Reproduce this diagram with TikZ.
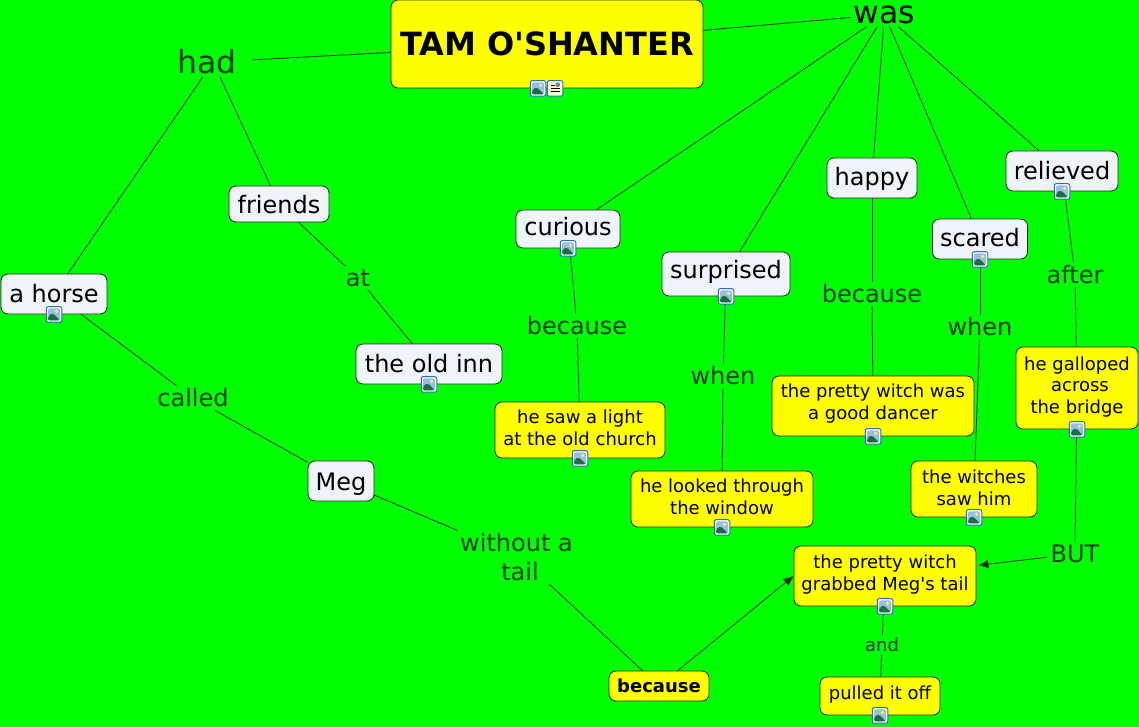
\documentclass[tikz,border=0pt]{standalone}
\usepackage{fontspec}
\setmainfont{DejaVu Sans}
\usetikzlibrary{arrows.meta,positioning}
\definecolor{mapgreen}{RGB}{0,255,0}
\definecolor{mapyellow}{RGB}{255,255,0}
\definecolor{mapwhite}{RGB}{238,244,250}
\definecolor{linkdark}{RGB}{8,62,8}
\definecolor{iconrim}{RGB}{40,110,190}
\definecolor{iconsky}{RGB}{150,190,235}
\definecolor{iconhill}{RGB}{30,110,60}
\tikzset{
  conceptbox/.style={rectangle, draw=black!85, line width=0.8pt, rounded corners=7pt, inner sep=0pt, align=center},
  whitebox/.style={conceptbox, fill=mapwhite, text height=18pt, text depth=2pt, font=\fontsize{24}{28}\selectfont},
  yellowbox/.style={conceptbox, fill=mapyellow, text depth=5pt, font=\fontsize{18}{21.5}\selectfont},
  linkword/.style={inner sep=3pt, align=center, text=linkdark, font=\fontsize{24}{29}\selectfont},
  edge/.style={draw=black!80!green, line width=0.8pt},
  pointer/.style={edge, -{Latex[length=10pt,width=9pt]}},
  iconbase/.style={rectangle, draw=iconrim, fill=white, line width=1pt, rounded corners=2pt, minimum size=15.5pt, inner sep=0pt},
  imageicon/.style={iconbase, path picture={
    \fill[iconsky] ([shift={(-6pt,-6pt)}]path picture bounding box.center) rectangle ([shift={(6pt,6pt)}]path picture bounding box.center);
    \fill[yellow!70!white] ([shift={(2.5pt,3pt)}]path picture bounding box.center) circle (1.8pt);
    \fill[iconhill] ([shift={(-6pt,-6pt)}]path picture bounding box.center) -- ([shift={(-6pt,-2pt)}]path picture bounding box.center) -- ([shift={(-1.5pt,1.5pt)}]path picture bounding box.center) -- ([shift={(6pt,-6pt)}]path picture bounding box.center) -- cycle;}},
  texticon/.style={iconbase, path picture={
    \fill[mapyellow!30!white] ([shift={(-6pt,-6pt)}]path picture bounding box.center) rectangle ([shift={(6pt,6pt)}]path picture bounding box.center);
    \fill[iconsky!70!black] ([shift={(0.5pt,1.5pt)}]path picture bounding box.center) rectangle ([shift={(5pt,6pt)}]path picture bounding box.center);
    \draw[black, line width=0.7pt] ([shift={(-4.5pt,3.5pt)}]path picture bounding box.center) -- ([shift={(-0.5pt,3.5pt)}]path picture bounding box.center)
      ([shift={(-4.5pt,0pt)}]path picture bounding box.center) -- ([shift={(4.5pt,0pt)}]path picture bounding box.center)
      ([shift={(-4.5pt,-2.5pt)}]path picture bounding box.center) -- ([shift={(4.5pt,-2.5pt)}]path picture bounding box.center);}},
}
\begin{document}
\begin{tikzpicture}[x=1pt, y=-1pt]
\useasboundingbox[fill=mapgreen] (0,0) rectangle (1139,727);
% concepts
\node[conceptbox, fill=mapyellow, minimum width=312pt, minimum height=88pt, font=\fontsize{32}{36}\selectfont\bfseries] (tam) at (547,44) {TAM O\textquotesingle SHANTER};
\node[whitebox, text height=20pt, text depth=0pt, minimum width=100pt, minimum height=36pt] (friends) at (279,204) {friends};
\node[whitebox, minimum width=106pt, minimum height=40pt] (horse) at (54,294) {a horse};
\node[whitebox, minimum width=146pt, minimum height=40pt] (oldinn) at (429,364) {the old inn};
\node[whitebox, text depth=0pt, minimum width=66pt, minimum height=40pt] (meg) at (341,481) {Meg};
\node[whitebox, text depth=4pt, minimum width=104pt, minimum height=38pt] (curious) at (568,229) {curious};
\node[whitebox, text depth=10pt, minimum width=128pt, minimum height=44pt] (surprised) at (726,274) {surprised};
\node[whitebox, minimum width=90pt, minimum height=40pt] (happy) at (872,178) {happy};
\node[whitebox, minimum width=95pt, minimum height=40pt] (scared) at (980,239) {scared};
\node[whitebox, text depth=0pt, minimum width=112pt, minimum height=40pt] (relieved) at (1062,171) {relieved};
\node[yellowbox, minimum width=170pt, minimum height=56pt] (sawlight) at (580,430) {he saw a light\\at the old church};
\node[yellowbox, minimum width=182pt, minimum height=56pt] (looked) at (722,499) {he looked through\\the window};
\node[yellowbox, text depth=9pt, minimum width=202pt, minimum height=60pt] (dancer) at (873,406) {the pretty witch was\\a good dancer};
\node[yellowbox, text depth=3pt, minimum width=126pt, minimum height=56pt] (sawhim) at (974,489) {the witches\\saw him};
\node[yellowbox, text depth=6pt, minimum width=122pt, minimum height=82pt] (galloped) at (1077,388) {he galloped\\\hspace{6pt}across\\the bridge};
\node[yellowbox, text depth=7pt, minimum width=182pt, minimum height=60pt] (grabbed) at (885,576) {the pretty witch\\grabbed Meg\textquotesingle s tail};
\node[yellowbox, text depth=7pt, minimum width=120pt, minimum height=38pt] (pulled) at (880,696) {pulled it off};
\node[yellowbox, text depth=1pt, minimum width=100pt, minimum height=30pt, font=\fontsize{18}{21.5}\selectfont\bfseries] (becausebox) at (659,686) {because};
% linking words
\node[linkword, minimum width=78pt, minimum height=30pt, inner sep=0pt, font=\fontsize{31.5}{36}\selectfont] (had) at (213,62) {had\hspace{12pt}};
\node[linkword, text=black, font=\fontsize{31.5}{36}\selectfont] (was) at (884.5,14.5) {was};
\node[linkword] (viaat) at (358,278) {at};
\node[linkword] (viacalled) at (193,398) {called};
\node[linkword] (viawithout) at (520,557) {without a\hspace{7pt}\mbox{}\\tail};
\node[linkword] (viacurious) at (577,326) {because};
\node[linkword] (viasurprised) at (723,376) {when};
\node[linkword] (viahappy) at (872,294) {because};
\node[linkword] (viascared) at (980,327) {when};
\node[linkword] (viarelieved) at (1075,275) {after};
\node[linkword] (viabut) at (1075,554) {BUT};
\node[linkword, font=\fontsize{18}{22}\selectfont] (viaand) at (882,645) {and};
% connectors
\draw[edge] (had) -- (tam);
\draw[edge] (tam) -- (was);
\draw[edge] (was) -- (curious);
\draw[edge] (was) -- (surprised);
\draw[edge] (was) -- (happy);
\draw[edge] (was) -- (scared);
\draw[edge] (was) -- (relieved);
\draw[edge] (had) -- (horse);
\draw[edge] (had) -- (friends);
\draw[edge] (friends) -- (viaat);
\draw[edge] (viaat) -- (oldinn);
\draw[edge] (horse) -- (viacalled);
\draw[edge] (viacalled) -- (meg);
\draw[edge] (meg) -- (viawithout);
\draw[edge] (viawithout) -- (becausebox);
\draw[pointer] (becausebox) -- (grabbed.west);
\draw[edge] (curious) -- (viacurious);
\draw[edge] (viacurious) -- (sawlight);
\draw[edge] (surprised) -- (viasurprised);
\draw[edge] (viasurprised) -- (looked);
\draw[edge] (happy) -- (viahappy);
\draw[edge] (viahappy) -- (dancer);
\draw[edge] (scared) -- (viascared);
\draw[edge] (viascared) -- (sawhim);
\draw[edge] (relieved) -- (viarelieved);
\draw[edge] (viarelieved) -- (galloped);
\draw[edge] (galloped) -- (viabut);
\draw[pointer, shorten >=2pt] (viabut) -- (grabbed);
\draw[edge] (grabbed) -- (viaand);
\draw[edge] (viaand) -- (pulled);
% icons
\node[imageicon, xshift=-9pt] (tamimage) at (tam.south) {};
\node[texticon, xshift=8pt] (tamtext) at (tam.south) {};
\node[imageicon] (horseicon) at (horse.south) {};
\node[imageicon] (innicon) at (oldinn.south) {};
\node[imageicon] (curiousicon) at (curious.south) {};
\node[imageicon] (surprisedicon) at (surprised.south) {};
\node[imageicon] (scaredicon) at (scared.south) {};
\node[imageicon] (relievedicon) at (relieved.south) {};
\node[imageicon] (sawlighticon) at (sawlight.south) {};
\node[imageicon] (lookedicon) at (looked.south) {};
\node[imageicon] (dancericon) at (dancer.south) {};
\node[imageicon] (sawhimicon) at (sawhim.south) {};
\node[imageicon] (gallopedicon) at (galloped.south) {};
\node[imageicon] (grabbedicon) at (grabbed.south) {};
\node[imageicon] (pulledicon) at (pulled.south) {};
\end{tikzpicture}
\end{document}
